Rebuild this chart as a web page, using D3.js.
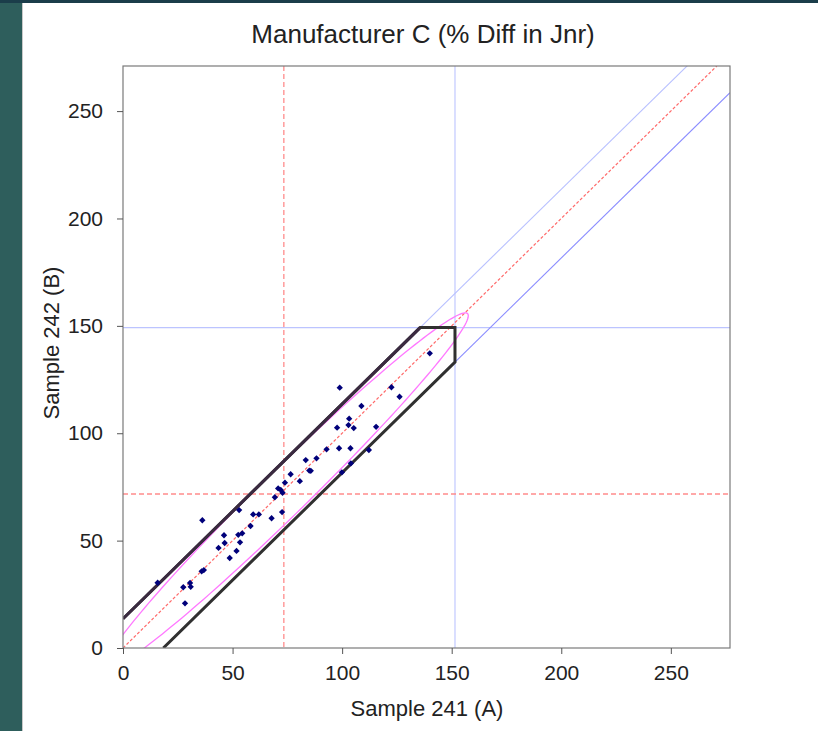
<!DOCTYPE html>
<html><head><meta charset="utf-8">
<script src="https://cdn.jsdelivr.net/npm/d3@7"></script>
<style>body{margin:0;background:#fff;} svg{display:block;font-family:"Liberation Sans",Arial,sans-serif;}</style>
</head><body>
<svg id="c" width="818" height="731"></svg>
<script>
// ---- data ----
const chartTitle = "Manufacturer C (% Diff in Jnr)";
const xLabel = "Sample 241 (A)";
const yLabel = "Sample 242 (B)";
const xTicks = [0, 50, 100, 150, 200, 250];
const yTicks = [0, 50, 100, 150, 200, 250];
const xDomain = [0, 277];
const yDomain = [0, 271];
const sampleA = [15.8,27.5,30.6,30.9,28.3,35.9,36.9,36.2,48.7,43.6,46.4,46.1,51.8,53.4,52.6,54.4,58.2,53.0,59.4,62.0,67.8,72.6,69.3,70.8,72.0,72.8,73.9,76.5,80.7,83.4,88.3,85.0,85.7,92.9,98.6,103.8,112.2,99.9,104.0,97.7,103.2,102.9,105.3,115.5,108.8,98.9,122.5,126.2,140.0];
const sampleB = [30.4,28.3,30.3,28.5,20.8,35.7,36.3,59.5,41.9,46.6,48.9,52.5,45.2,49.2,52.7,53.4,56.8,64.2,62.2,62.2,60.4,63.3,70.2,74.3,73.6,72.3,77.0,80.9,77.7,87.5,88.3,82.6,82.5,92.5,93.0,93.0,92.2,81.8,86.0,102.6,106.8,103.8,102.4,103.0,112.7,121.2,121.4,117.0,137.2];
const refA = 73.4;          // red dashed vertical
const refB = 71.7;          // red dashed horizontal
const limA = 151.5;         // blue vertical
const limB = 149.2;         // blue horizontal
const upperOffset = 13.6;   // upper band y = x + 13.6
const lowerOffset = -18.4;  // lower band y = x - 18.4
const ellipseCenter = [74.5, 73.0];
const ellipseAxes = [117, 10.5]; // semi-major along 45deg, semi-minor

// ---- layout ----
const svg = d3.select("#c");
const W = 818, H = 731;
const L = 123, R = 730, T = 66, B = 648;
const FONT = '"Liberation Sans",Arial,sans-serif';
const x = d3.scaleLinear().domain(xDomain).range([L, R]);
const y = d3.scaleLinear().domain(yDomain).range([B, T]);

svg.append("rect").attr("x",0).attr("y",0).attr("width",W).attr("height",H).attr("fill","#fff");
svg.append("rect").attr("x",0).attr("y",0).attr("width",22).attr("height",H).attr("fill","#2e5e5c");
svg.append("rect").attr("x",0).attr("y",0).attr("width",W).attr("height",3).attr("fill","#1b3d4a");
svg.append("line").attr("x1",22.5).attr("x2",22.5).attr("y1",3).attr("y2",H).attr("stroke","#c8c8c8").attr("stroke-width",1);

svg.append("defs").append("clipPath").attr("id","plot")
  .append("rect").attr("x",L).attr("y",T).attr("width",R-L).attr("height",B-T);
const g = svg.append("g").attr("clip-path","url(#plot)");

const line = d3.line().x(d=>x(d[0])).y(d=>y(d[1]));

// blue reference lines
g.append("line").attr("x1",x(limA)).attr("x2",x(limA)).attr("y1",T).attr("y2",B)
  .attr("stroke","#bcc4ff").attr("stroke-width",1.1);
g.append("line").attr("x1",L).attr("x2",R).attr("y1",y(limB)).attr("y2",y(limB))
  .attr("stroke","#bcc4ff").attr("stroke-width",1.1);
// band lines
g.append("path").attr("d",line([[0,upperOffset],[xDomain[1],xDomain[1]+upperOffset]]))
  .attr("fill","none").attr("stroke","#b8c0ff").attr("stroke-width",1.1);
g.append("path").attr("d",line([[-lowerOffset,0],[xDomain[1],xDomain[1]+lowerOffset]]))
  .attr("fill","none").attr("stroke","#8a8cff").attr("stroke-width",1.1);
// red dashed
g.append("line").attr("x1",x(refA)).attr("x2",x(refA)).attr("y1",T).attr("y2",B)
  .attr("stroke","#ff8c8c").attr("stroke-width",1.3).attr("stroke-dasharray","5,3");
g.append("line").attr("x1",L).attr("x2",R).attr("y1",y(refB)).attr("y2",y(refB))
  .attr("stroke","#ff8c8c").attr("stroke-width",1.3).attr("stroke-dasharray","5,3");
g.append("path").attr("d",line([[0,0],[yDomain[1],yDomain[1]]]))
  .attr("fill","none").attr("stroke","#ff6a6a").attr("stroke-width",1.2).attr("stroke-dasharray","3,2");

// ellipse
const ell = d3.range(0, 361, 2).map(deg => {
  const t = deg*Math.PI/180, s = Math.SQRT1_2;
  const u = ellipseAxes[0]*Math.cos(t), v = ellipseAxes[1]*Math.sin(t);
  return [ellipseCenter[0] + (u - v)*s, ellipseCenter[1] + (u + v)*s];
});
g.append("path").attr("d",line(ell)+"Z").attr("fill","none").attr("stroke","#ff78ff").attr("stroke-width",1.3);

// black acceptance polygon
const topX = limB - upperOffset;
const poly = [[0,upperOffset],[topX,limB],[limA,limB],[limA,limA+lowerOffset],[-lowerOffset,0]];
g.append("path").attr("d",line(poly)).attr("fill","none").attr("stroke","#303030")
  .attr("stroke-width",3).attr("stroke-linejoin","miter");
g.append("path").attr("d",line(poly.slice(0,2))).attr("fill","none").attr("stroke","#3a2a40")
  .attr("stroke-width",3);

// points
const pts = sampleA.map((a,i)=>[a,sampleB[i]]);
g.selectAll("path.pt").data(pts).enter().append("path").attr("class","pt")
  .attr("d", d3.symbol().type(d3.symbolSquare).size(20))
  .attr("transform", d=>`translate(${x(d[0])},${y(d[1])}) rotate(45)`)
  .attr("fill","#00007a");

// frame
svg.append("rect").attr("x",L).attr("y",T).attr("width",R-L).attr("height",B-T)
  .attr("fill","none").attr("stroke","#7a7a7a").attr("stroke-width",1.2);

// axes
const xa = svg.append("g").attr("transform",`translate(0,${B})`)
  .call(d3.axisBottom(x).tickValues(xTicks).tickSize(6).tickPadding(11).tickSizeOuter(0));
const ya = svg.append("g").attr("transform",`translate(${L},0)`)
  .call(d3.axisLeft(y).tickValues(yTicks).tickSize(6).tickPadding(14).tickSizeOuter(0));
[xa,ya].forEach(a=>{
  a.select(".domain").remove();
  a.selectAll("line").attr("stroke","#555");
  a.selectAll("text").attr("font-size",21).attr("fill","#222").attr("font-family",FONT);
});

svg.append("text").attr("x",423).attr("y",43).attr("text-anchor","middle")
  .attr("font-size",26).attr("fill","#222").text(chartTitle);
svg.append("text").attr("x",427).attr("y",716).attr("text-anchor","middle")
  .attr("font-size",22).attr("fill","#222").text(xLabel);
svg.append("text").attr("transform","translate(59,343) rotate(-90)").attr("text-anchor","middle")
  .attr("font-size",22).attr("fill","#222").text(yLabel);
</script>
</body></html>
